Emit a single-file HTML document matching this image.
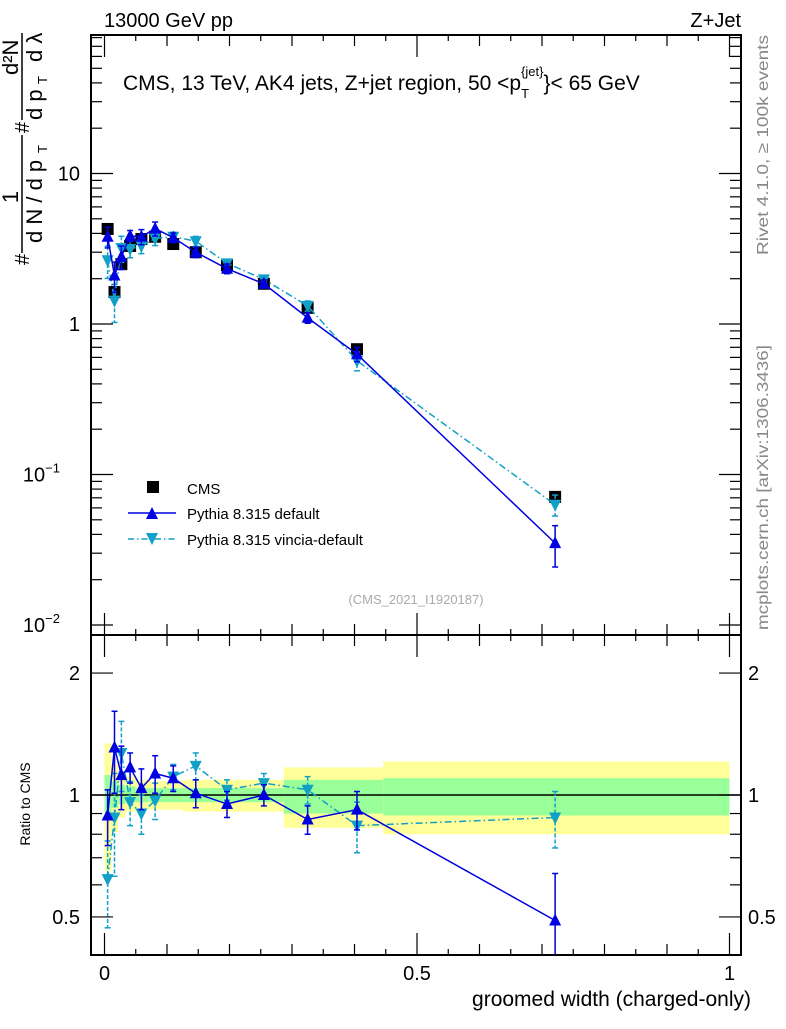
<!DOCTYPE html>
<html><head><meta charset="utf-8"><style>
body{margin:0;background:#fff;}
svg text{font-family:"Liberation Sans",sans-serif;}
</style></head><body>
<svg id="c" width="786" height="1024" xmlns="http://www.w3.org/2000/svg">
<text x="104" y="27" font-size="20">13000 GeV pp</text>
<text x="741" y="27" font-size="20" text-anchor="end">Z+Jet</text>
<g transform="translate(22,265) rotate(-90)" font-size="22">
 <text x="0" y="7" font-size="20">#</text>
 <text x="68" y="-4" text-anchor="middle">1</text>
 <line x1="12" y1="0" x2="130" y2="0" stroke="#000" stroke-width="1.5"/>
 <text x="22" y="20">d N / d p</text><text x="112" y="25" font-size="13">T</text>
 <text x="132" y="7" font-size="20">#</text>
 <text x="190" y="-4">d²N</text>
 <line x1="145" y1="0" x2="232" y2="0" stroke="#000" stroke-width="1.5"/>
 <text x="145" y="20">d p</text><text x="181" y="25" font-size="13">T</text><text x="203" y="20">d λ</text>
</g>
<text transform="translate(768,255) rotate(-90)" font-size="16" fill="#888" textLength="220" lengthAdjust="spacingAndGlyphs">Rivet 4.1.0, ≥ 100k events</text>
<text transform="translate(768,630) rotate(-90)" font-size="16" fill="#888" textLength="285" lengthAdjust="spacingAndGlyphs">mcplots.cern.ch [arXiv:1306.3436]</text>
<text x="123" y="90" font-size="21">CMS, 13 TeV, AK4 jets, Z+jet region, 50 &lt;p<tspan font-size="13" dy="8">T</tspan><tspan font-size="13" dy="-22" dx="-8">{jet}</tspan><tspan dy="14">}&lt; 65 GeV</tspan></text>
<text x="416" y="604" font-size="13" fill="#aaa" text-anchor="middle">(CMS_2021_I1920187)</text>
<g id="bands"></g><g id="marks"></g><g id="axes"></g>
<g>
 <rect x="147" y="481" width="12" height="12" fill="#000"/>
 <text x="187" y="494" font-size="15">CMS</text>
 <line x1="128" y1="513" x2="176" y2="513" stroke="#0000e0" stroke-width="1.5"/>
 <path d="M146,519 L158,519 L152,507Z" fill="#0000e0"/>
 <text x="187" y="519" font-size="15">Pythia 8.315 default</text>
 <line x1="128" y1="539" x2="176" y2="539" stroke="#11a0c8" stroke-width="1.5" stroke-dasharray="6,3,1.5,3"/>
 <path d="M146,533 L158,533 L152,545Z" fill="#11a0c8"/>
 <text x="187" y="545" font-size="15">Pythia 8.315 vincia-default</text>
</g>
<text x="22" y="796" font-size="14" transform="rotate(-90 30 796)" text-anchor="middle">Ratio to CMS</text>
<text x="751" y="1006" font-size="21" text-anchor="end">groomed width (charged-only)</text>
</svg>
<script>
const xs = [0.005,0.016,0.027,0.041,0.059,0.081,0.110,0.146,0.196,0.255,0.325,0.404,0.721];
const cms = [4.28,1.63,2.5,3.3,3.67,3.8,3.4,3.0,2.45,1.85,1.28,0.68,0.071];
const pyDef = [3.8,2.1,2.8,3.85,3.8,4.3,3.75,3.0,2.33,1.85,1.1,0.63,0.035];
const pyVin = [2.65,1.43,3.2,3.15,3.3,3.7,3.8,3.55,2.53,1.98,1.32,0.57,0.063];
const ratioDef = [0.89,1.31,1.12,1.17,1.04,1.13,1.10,1.01,0.95,1.0,0.87,0.92,0.49];
const ratioVin = [0.62,0.88,1.27,0.96,0.90,0.97,1.11,1.18,1.03,1.07,1.03,0.84,0.88];
const errDef = [0.14,0.3,0.2,0.1,0.12,0.12,0.08,0.08,0.07,0.06,0.07,0.1,0.15];
const errVin = [0.15,0.25,0.25,0.12,0.1,0.1,0.08,0.09,0.06,0.06,0.08,0.12,0.14];
const binEdges = [0,0.011,0.022,0.033,0.05,0.07,0.095,0.125,0.167,0.223,0.287,0.36,0.446,1.0];
const yelHi = [1.34,1.19,1.14,1.11,1.09,1.08,1.08,1.09,1.09,1.09,1.17,1.17,1.21];
const yelLo = [0.65,0.81,0.88,0.91,0.92,0.92,0.92,0.91,0.91,0.91,0.83,0.83,0.80];
const grnHi = [1.12,1.08,1.06,1.05,1.04,1.04,1.04,1.04,1.04,1.04,1.09,1.09,1.10];
const grnLo = [0.9,0.93,0.95,0.96,0.96,0.96,0.96,0.96,0.96,0.96,0.9,0.9,0.89];
const mainTicks = [["10",10],["1",1]];
const ratioTicks = [["2",2],["1",1],["0.5",0.5]];

const NS="http://www.w3.org/2000/svg";
const L=91,R=741,T=35,MID=635,B=955;
const X=v=>104.5+v*625;
const YM=v=>324-150.5*Math.log10(v);
const YR=v=>795-405*Math.log10(v);
function mk(tag,attrs,parent){const e=document.createElementNS(NS,tag);for(const k in attrs)e.setAttribute(k,attrs[k]);document.getElementById(parent).appendChild(e);return e;}

for(let i=0;i<yelHi.length;i++){
  const y=mk('rect',{x:X(binEdges[i]),width:X(binEdges[i+1])-X(binEdges[i]),y:YR(yelHi[i]),height:YR(yelLo[i])-YR(yelHi[i]),fill:'#ffff99'},'bands');
  
  
  const g=mk('rect',{x:X(binEdges[i]),width:X(binEdges[i+1])-X(binEdges[i]),y:YR(grnHi[i]),height:YR(grnLo[i])-YR(grnHi[i]),fill:'#99ff99'},'bands');
  
  
}
const one=mk('line',{x1:L,x2:R,y1:YR(1),y2:YR(1),stroke:'#000','stroke-width':1.5},'bands');



function clampR(y){return Math.max(MID,Math.min(B,y));}
function series(vals,ratios,errs,col,dash,up,name){
  const ptsM=xs.map((x,i)=>X(x)+','+YM(vals[i])).join(' ');
  const ptsR=xs.map((x,i)=>X(x)+','+YR(ratios[i])).join(' ');
  const a={fill:'none',stroke:col,'stroke-width':1.5};if(dash)a['stroke-dasharray']=dash;
  const l1=mk('polyline',Object.assign({points:ptsM},a),'marks');
  
  
  const l2=mk('polyline',Object.assign({points:ptsR},a),'marks');
  
  
  xs.forEach((x,i)=>{
    const px=X(x),rel=errs[i]/ratios[i];
    [[YM(vals[i]),YM(vals[i]*(1+rel)),YM(Math.max(vals[i]*(1-rel),1e-3))],[YR(ratios[i]),clampR(YR(ratios[i]+errs[i])),clampR(YR(Math.max(ratios[i]-errs[i],0.3)))]].forEach(([py,t,b],k)=>{
      const ea={x1:px,x2:px,y1:t,y2:b,stroke:col,'stroke-width':1.5};if(dash)ea['stroke-dasharray']='4,2';
      const e=mk('line',ea,'marks');
      
      
      mk('line',{x1:px-3,x2:px+3,y1:t,y2:t,stroke:col,'stroke-width':1.5},'marks');
      if(b<B) mk('line',{x1:px-3,x2:px+3,y1:b,y2:b,stroke:col,'stroke-width':1.5},'marks');
      const d=up?`M${px-6},${py+5}L${px+6},${py+5}L${px},${py-7}Z`:`M${px-6},${py-5}L${px+6},${py-5}L${px},${py+7}Z`;
      const m=mk('path',{d:d,fill:col},'marks');
      
      
    });
  });
}
xs.forEach((x,i)=>{
  const r=mk('rect',{x:X(x)-6,y:YM(cms[i])-6,width:12,height:12,fill:'#000'},'marks');
  
  
});
series(pyVin,ratioVin,errVin,'#11a0c8','7,3,1.5,3',false,'pythia-vincia');
series(pyDef,ratioDef,errDef,'#0000e0',null,true,'pythia-default');

const f1=mk('rect',{x:L,y:T,width:R-L,height:MID-T,fill:'none',stroke:'#000','stroke-width':2},'axes');


const f2=mk('rect',{x:L,y:MID,width:R-L,height:B-MID,fill:'none',stroke:'#000','stroke-width':2},'axes');


for(let d=-2;d<=1;d++)for(let m=1;m<10;m++){
  const v=m*Math.pow(10,d),y=YM(v);if(y<T||y>MID)continue;
  const len=m==1?22:11;
  mk('line',{x1:L,x2:L+len,y1:y,y2:y,stroke:'#000','stroke-width':1.2},'axes');
  mk('line',{x1:R,x2:R-len,y1:y,y2:y,stroke:'#000','stroke-width':1.2},'axes');
}
mainTicks.forEach(([t,v])=>{const e=mk('text',{x:80,y:YM(v)+7,'font-size':20,'text-anchor':'end'},'axes');e.textContent=t;
 
 });
[[-1,0.1],[-2,0.01]].forEach(([p,v])=>{const e=mk('text',{x:60,y:YM(v)+7,'font-size':20,'text-anchor':'end'},'axes');e.innerHTML='10<tspan font-size="13" dy="-9">−'+(-p)+'</tspan>';
 
 });
for(const v of [0.5,0.6,0.7,0.8,0.9,1,2]){const y=YR(v);const len=(v==0.5||v==1||v==2)?22:11;
  mk('line',{x1:L,x2:L+len,y1:y,y2:y,stroke:'#000','stroke-width':1.2},'axes');
  mk('line',{x1:R,x2:R-len,y1:y,y2:y,stroke:'#000','stroke-width':1.2},'axes');}
ratioTicks.forEach(([t,v])=>{
  const a=mk('text',{x:80,y:YR(v)+7,'font-size':20,'text-anchor':'end'},'axes');a.textContent=t;
  
  
  const b=mk('text',{x:748,y:YR(v)+7,'font-size':20},'axes');b.textContent=t;
  
  });
for(let k=0;k<=20;k++){const v=k*0.05,x=X(v);const len=k%10==0?22:(k%2==0?11:6);
  mk('line',{x1:x,x2:x,y1:B,y2:B-len,stroke:'#000','stroke-width':1.2},'axes');
  mk('line',{x1:x,x2:x,y1:MID,y2:MID-len,stroke:'#000','stroke-width':1.2},'axes');
  mk('line',{x1:x,x2:x,y1:MID,y2:MID+len,stroke:'#000','stroke-width':1.2},'axes');
  mk('line',{x1:x,x2:x,y1:T,y2:T+len,stroke:'#000','stroke-width':1.2},'axes');}
[["0",0],["0.5",0.5],["1",1]].forEach(([t,v])=>{const e=mk('text',{x:X(v),y:980,'font-size':20,'text-anchor':'middle'},'axes');e.textContent=t;
 
 });
</script>
</body></html>
